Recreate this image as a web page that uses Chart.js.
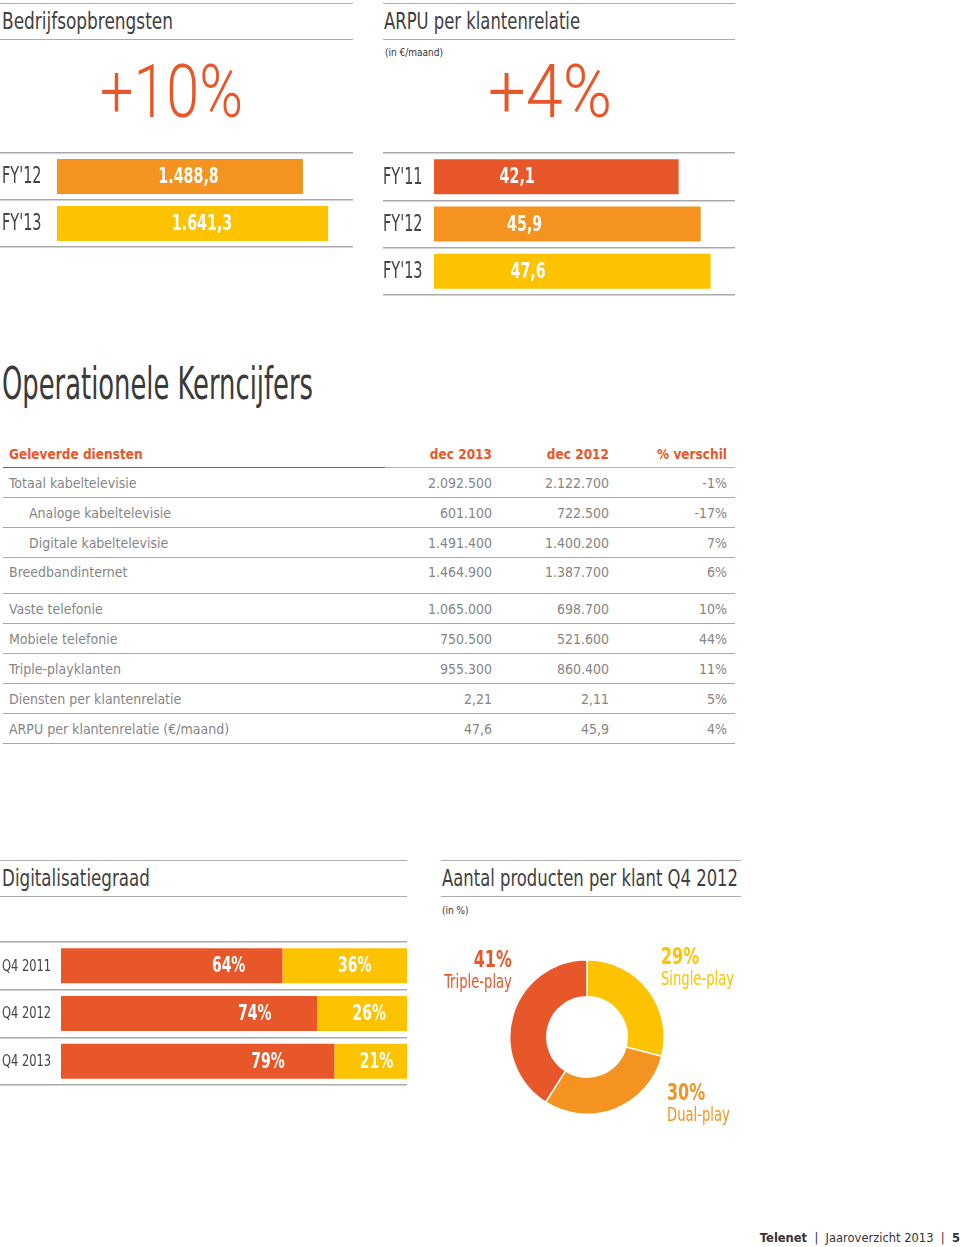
<!DOCTYPE html>
<html>
<head>
<meta charset="utf-8">
<script src="https://cdn.jsdelivr.net/npm/chart.js@4/dist/chart.umd.min.js"></script>
<style>
  html,body{margin:0;padding:0;background:#fff;}
  body{width:960px;height:1247px;position:relative;overflow:hidden;
       font-family:"DejaVu Sans Condensed","Roboto",sans-serif;color:#444;}
  .abs{position:absolute;white-space:nowrap;}
  .rule{position:absolute;height:0;border-top:1.5px solid #acacac;}
  .title{font-size:23px;color:#3f3f3f;line-height:28px;transform-origin:0 50%;}
  .big{font-size:74px;line-height:74px;color:#e8572a;font-family:"Roboto",sans-serif;font-weight:300;transform-origin:0 50%;}
  .small{font-size:10px;color:#333;}
  canvas{position:absolute;}
  table{position:absolute;left:3px;top:440px;width:732px;table-layout:fixed;border-collapse:collapse;font-size:14px;color:#858585;}
  th{color:#e8572a;font-weight:bold;font-size:13.5px;height:27px;text-align:right;border-bottom:1.5px solid #b5b5b5;padding:0 8px 0 0;}
  th:first-child{text-align:left;padding-left:6px;border-bottom-color:#666;}
  td{height:29px;border-bottom:1.5px solid #a8a8a8;text-align:right;padding:0 8px 0 0;vertical-align:middle;}
  td:first-child{text-align:left;padding-left:6px;}
  td.ind{padding-left:26px;}
  tr.tall td{height:29px;vertical-align:top;padding-top:6px;}
  .dl{position:absolute;white-space:nowrap;line-height:1;}
  .dl b{display:block;font-size:23px;}
  .dl span{display:block;font-size:19px;margin-top:1px;}
</style>
</head>
<body>

<!-- top left -->
<div class="rule" style="left:0;top:3px;width:353px"></div>
<div class="abs title" data-w="171" style="left:2px;top:7px">Bedrijfsopbrengsten</div>
<div class="rule" style="left:0;top:39px;width:353px"></div>
<div class="abs big" data-w="143" style="left:100px;top:55px">+10%</div>
<canvas id="revChart" width="353" height="98" style="left:0;top:151px"></canvas>

<!-- top right -->
<div class="rule" style="left:383px;top:3px;width:352px"></div>
<div class="abs title" data-w="196" style="left:384px;top:7px">ARPU per klantenrelatie</div>
<div class="rule" style="left:383px;top:39px;width:352px"></div>
<div class="abs small" style="left:385px;top:47px">(in €/maand)</div>
<div class="abs big" data-w="124" style="left:488px;top:55px">+4%</div>
<canvas id="arpuChart" width="352" height="146" style="left:383px;top:151px"></canvas>

<!-- table -->
<div class="abs" data-w="311" style="left:2px;top:360px;font-size:44px;line-height:48px;color:#3a3a3a;transform-origin:0 50%">Operationele Kerncijfers</div>
<table id="kpiTable">
  <colgroup><col style="width:382px"><col style="width:115px"><col style="width:117px"><col style="width:118px"></colgroup>
</table>

<!-- digitalisation -->
<div class="rule" style="left:0;top:860px;width:407px"></div>
<div class="abs title" data-w="148" style="left:2px;top:864px">Digitalisatiegraad</div>
<div class="rule" style="left:0;top:896px;width:407px"></div>
<canvas id="digiChart" width="407" height="147" style="left:0;top:940px"></canvas>

<!-- products -->
<div class="rule" style="left:441px;top:860px;width:300px"></div>
<div class="abs title" data-w="296" style="left:442px;top:864px">Aantal producten per klant Q4 2012</div>
<div class="rule" style="left:441px;top:896px;width:300px"></div>
<div class="abs small" style="left:442px;top:905px">(in %)</div>
<canvas id="prodChart" width="156" height="156" style="left:509px;top:959px"></canvas>
<div id="prodLabels"></div>

<div class="abs" style="right:0;top:1231px;font-size:11.5px;color:#333;font-family:'DejaVu Sans',sans-serif">
  <b>Telenet</b>&nbsp; |&nbsp; Jaaroverzicht 2013&nbsp; |&nbsp; <b>5</b>
</div>

<script>
const RED = '#e8572a', ORANGE = '#f4931f', YELLOW = '#fdc300';
const FONT = '"DejaVu Sans Condensed","Roboto",sans-serif';

// ---------- data ----------
const revYears = ["FY'12", "FY'13"];
const revValues = [1488.8, 1641.3];

const arpuYears = ["FY'11", "FY'12", "FY'13"];
const arpuValues = [42.1, 45.9, 47.6];

const kpiHeader = ['Geleverde diensten', 'dec 2013', 'dec 2012', '% verschil'];
const kpiLabels = ['Totaal kabeltelevisie', 'Analoge kabeltelevisie', 'Digitale kabeltelevisie', 'Breedbandinternet',
  'Vaste telefonie', 'Mobiele telefonie', 'Triple-playklanten', 'Diensten per klantenrelatie', 'ARPU per klantenrelatie (€/maand)'];
const kpiDec2013 = ['2.092.500', '601.100', '1.491.400', '1.464.900', '1.065.000', '750.500', '955.300', '2,21', '47,6'];
const kpiDec2012 = ['2.122.700', '722.500', '1.400.200', '1.387.700', '698.700', '521.600', '860.400', '2,11', '45,9'];
const kpiDiff = ['-1%', '-17%', '7%', '6%', '10%', '44%', '11%', '5%', '4%'];
const kpiIndent = [false, true, true, false, false, false, false, false, false];

const digiQuarters = ['Q4 2011', 'Q4 2012', 'Q4 2013'];
const digiDigital = [64, 74, 79];
const digiAnalog = [36, 26, 21];

const prodLabels = ['Single-play', 'Dual-play', 'Triple-play'];
const prodShares = [29, 30, 41];

// ---------- helpers ----------
function nlNum(v, dec){
  const [i, d] = v.toFixed(dec).split('.');
  return i.replace(/\B(?=(\d{3})+(?!\d))/g, '.') + (d ? ',' + d : '');
}
function fitWidth(el){
  const w = Number(el.dataset.w);
  el.style.transform = `scaleX(${w / el.getBoundingClientRect().width})`;
}
// squeezed text (the original uses a condensed DIN face)
function squeezed(c, text, x, y, sx){
  c.save(); c.translate(x, y); c.scale(sx, 1); c.fillText(text, 0, 0); c.restore();
}
// value text inside the bars
function barText(font, sx, place, fmt){
  return {
    id: 'barText',
    afterDatasetsDraw(chart){
      const c = chart.ctx;
      c.save();
      c.font = font; c.fillStyle = '#fff'; c.textBaseline = 'middle'; c.textAlign = 'center';
      chart.data.datasets.forEach((ds, di) => {
        chart.getDatasetMeta(di).data.forEach((bar, i) => {
          squeezed(c, fmt(ds.data[i]), place(bar, di), bar.y + 1, sx);
        });
      });
      c.restore();
    }
  };
}
// category labels of the y axis, left aligned
function axisText(font, sx){
  return {
    id: 'axisText',
    afterDraw(chart){
      const y = chart.scales.y, c = chart.ctx;
      c.save();
      c.font = font; c.fillStyle = '#444'; c.textBaseline = 'middle'; c.textAlign = 'left';
      chart.data.labels.forEach((l, i) => squeezed(c, l, y.left, y.getPixelForTick(i) + 1, sx));
      c.restore();
    }
  };
}
function hbarOptions(xMax, axisW, padLeft, stacked){
  return {
    indexAxis: 'y', responsive: false, animation: false, devicePixelRatio: 1,
    layout: { padding: { left: padLeft, right: 0, top: 2, bottom: 2 } },
    plugins: { legend: { display: false }, tooltip: { enabled: false } },
    scales: {
      x: { display: false, min: 0, max: xMax, stacked },
      y: {
        stacked,
        border: { display: false },
        grid: { offset: true, color: '#a9a9a9', lineWidth: 1.5, tickLength: axisW + padLeft, drawTicks: true },
        ticks: { display: false },
        afterFit: a => { a.width = axisW; a.paddingTop = 0; a.paddingBottom = 0; }
      }
    }
  };
}

// ---------- revenue ----------
new Chart(document.getElementById('revChart'), {
  type: 'bar',
  data: { labels: revYears, datasets: [{ data: revValues, backgroundColor: [ORANGE, YELLOW], barPercentage: 0.74, categoryPercentage: 1 }] },
  options: hbarOptions(1792, 55, 2, false),
  plugins: [
    barText('bold 22px ' + FONT, 0.72, b => b.base + 0.535 * (b.x - b.base), v => nlNum(v, 1)),
    axisText('23px ' + FONT, 0.7)
  ]
});

// ---------- ARPU ----------
new Chart(document.getElementById('arpuChart'), {
  type: 'bar',
  data: { labels: arpuYears, datasets: [{ data: arpuValues, backgroundColor: [RED, ORANGE, YELLOW], barPercentage: 0.74, categoryPercentage: 1 }] },
  options: hbarOptions(51.8, 51, 0, false),
  plugins: [
    barText('bold 22px ' + FONT, 0.72, b => b.base + 0.34 * (b.x - b.base), v => nlNum(v, 1)),
    axisText('23px ' + FONT, 0.7)
  ]
});

// ---------- table ----------
(function(){
  const t = document.getElementById('kpiTable');
  let html = '<tr>' + kpiHeader.map(h => `<th>${h}</th>`).join('') + '</tr>';
  kpiLabels.forEach((l, i) => {
    html += `<tr${i === 3 ? ' class="tall"' : ''}><td${kpiIndent[i] ? ' class="ind"' : ''}>${l}</td>` +
      `<td>${kpiDec2013[i]}</td><td>${kpiDec2012[i]}</td><td>${kpiDiff[i]}</td></tr>`;
  });
  t.insertAdjacentHTML('beforeend', html);
})();

// ---------- digitalisation ----------
new Chart(document.getElementById('digiChart'), {
  type: 'bar',
  data: {
    labels: digiQuarters,
    datasets: [
      { label: 'digitaal', data: digiDigital, backgroundColor: RED, barPercentage: 0.734, categoryPercentage: 1 },
      { label: 'analoog', data: digiAnalog, backgroundColor: YELLOW, barPercentage: 0.734, categoryPercentage: 1 }
    ]
  },
  options: hbarOptions(100, 59, 2, true),
  plugins: [
    barText('bold 21px ' + FONT, 0.74, (b, di) => b.base + (di === 0 ? 0.757 : 0.58) * (b.x - b.base), v => v + '%'),
    axisText('15px ' + FONT, 0.85)
  ]
});

// ---------- products ----------
new Chart(document.getElementById('prodChart'), {
  type: 'doughnut',
  data: { labels: prodLabels, datasets: [{ data: prodShares, backgroundColor: [YELLOW, ORANGE, RED], borderColor: '#fff', borderWidth: 1.5 }] },
  options: {
    responsive: false, animation: false, devicePixelRatio: 1, cutout: '52%',
    plugins: { legend: { display: false }, tooltip: { enabled: false } }
  }
});
(function(){
  const spots = [
    { x: 661, top: 945, color: YELLOW, origin: 'left' },
    { x: 667, top: 1081, color: ORANGE, origin: 'left' },
    { x: 512, top: 948, color: RED, origin: 'right' }
  ];
  document.getElementById('prodLabels').innerHTML = prodLabels.map((l, i) => {
    const s = spots[i];
    const pos = s.origin === 'left' ? `left:${s.x}px` : `right:${960 - s.x}px`;
    return `<div class="dl" style="${pos};top:${s.top}px;color:${s.color};text-align:${s.origin};transform:scaleX(0.77);transform-origin:${s.origin} center">` +
      `<b>${prodShares[i]}%</b><span>${l}</span></div>`;
  }).join('');
})();

document.querySelectorAll('[data-w]').forEach(fitWidth);
</script>
</body>
</html>
